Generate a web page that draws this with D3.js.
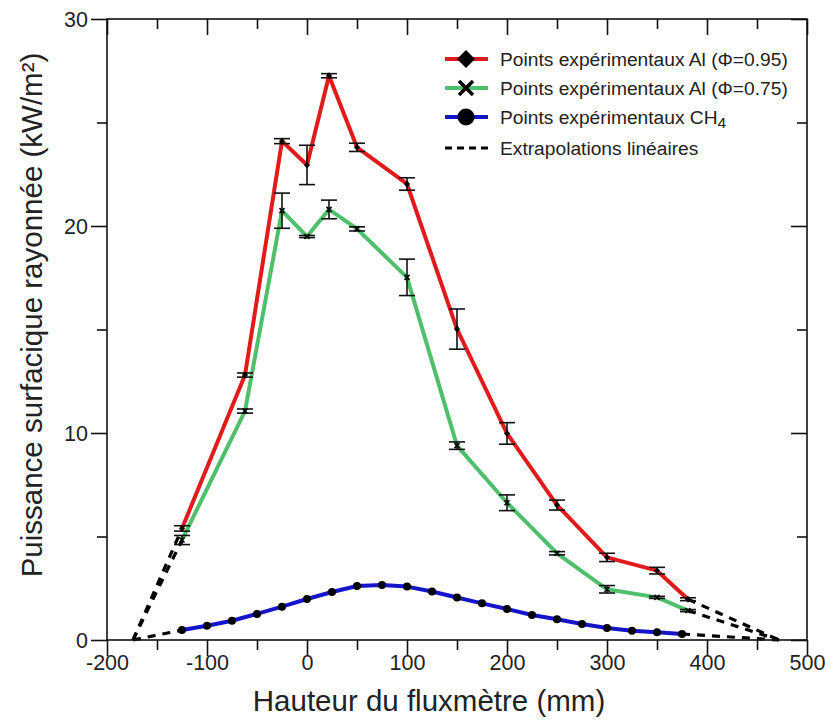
<!DOCTYPE html>
<html>
<head>
<meta charset="utf-8">
<script src="https://cdn.jsdelivr.net/npm/d3@7"></script>
<style>
  html, body { margin: 0; padding: 0; background: #fff; }
  svg { display: block; font-family: "Liberation Sans", Arial, sans-serif; }
</style>
</head>
<body>
<svg id="chart" width="827" height="724"></svg>
<script>
// ---------- data ----------
const xAl = [-125, -62, -25, 0, 22, 50, 100, 150, 200, 250, 300, 350, 381];
const alPhi095 = [5.39, 12.8, 24.1, 22.95, 27.26, 23.8, 22.03, 15.02, 9.98, 6.52, 3.99, 3.35, 1.97];
const alPhi095Err = [0.13, 0.1, 0.12, 0.95, 0.1, 0.2, 0.3, 0.97, 0.52, 0.24, 0.2, 0.16, 0.07];
const alPhi075 = [4.83, 11.06, 20.74, 19.49, 20.8, 19.86, 17.52, 9.39, 6.63, 4.19, 2.45, 2.06, 1.42];
const alPhi075Err = [0.22, 0.1, 0.85, 0.05, 0.45, 0.1, 0.88, 0.18, 0.38, 0.08, 0.18, 0.05, 0.05];
const xCH4 = [-125, -100, -75, -50, -25, 0, 25, 50, 75, 100, 125, 150, 175, 200, 225, 250, 275, 300, 325, 350, 375];
const ch4 = [0.48, 0.69, 0.93, 1.26, 1.61, 1.98, 2.32, 2.61, 2.66, 2.58, 2.34, 2.05, 1.77, 1.50, 1.21, 1.0, 0.77, 0.58, 0.45, 0.37, 0.29];
const extrapZeros = [-174, 472];   // x where linear extrapolations reach 0
const xTicks = [-200, -100, 0, 100, 200, 300, 400, 500];
const xMinorTicks = [-150, -50, 50, 150, 250, 350, 450];
const yTicks = [0, 10, 20, 30];
const yMinorTicks = [5, 15, 25];
const legendLabels = ["Points expérimentaux Al (Φ=0.95)", "Points expérimentaux Al (Φ=0.75)", "Points expérimentaux CH", "Extrapolations linéaires"];
const xTitle = "Hauteur du fluxmètre (mm)";
const yTitle = "Puissance surfacique rayonnée (kW/m²)";

// ---------- layout ----------
const svg = d3.select("#chart");
const L = 107, R = 807, T = 19, B = 640;
const x = d3.scaleLinear().domain([-200, 500]).range([L, R]);
const y = d3.scaleLinear().domain([0, 30]).range([B, T]);
const RED = "#e01b1b", GREEN = "#4fbf6c", BLUE = "#1414c8";
const FONT = "'Liberation Sans', Arial, sans-serif";
const fmt = d => String(d);

const line = d3.line().x(d => x(d[0])).y(d => y(d[1]));
const zip = (xs, ys) => xs.map((v, i) => [v, ys[i]]);

const red = zip(xAl, alPhi095), green = zip(xAl, alPhi075), blue = zip(xCH4, ch4);

// ---------- extrapolations ----------
const extrap = [];
[red, green, blue].forEach(s => {
  extrap.push([[extrapZeros[0], 0], s[0]]);
  extrap.push([s[s.length - 1], [extrapZeros[1], 0]]);
});
svg.append("g").selectAll("path").data(extrap).join("path")
  .attr("d", line).attr("fill", "none").attr("stroke", "#000")
  .attr("stroke-width", 3.2).attr("stroke-dasharray", "8,7");

// ---------- series lines ----------
[[red, RED], [green, GREEN], [blue, BLUE]].forEach(([s, c]) => {
  svg.append("path").datum(s).attr("d", line).attr("fill", "none")
    .attr("stroke", c).attr("stroke-width", 4).attr("stroke-linejoin", "round");
});

// ---------- error bars ----------
function errBars(s, errs) {
  const g = svg.append("g").attr("stroke", "#111").attr("stroke-width", 1.6);
  s.forEach((d, i) => {
    const e = errs[i], cx = x(d[0]);
    g.append("line").attr("x1", cx).attr("x2", cx).attr("y1", y(d[1] - e)).attr("y2", y(d[1] + e));
    [d[1] - e, d[1] + e].forEach(v => {
      g.append("line").attr("x1", cx - 8).attr("x2", cx + 8).attr("y1", y(v)).attr("y2", y(v));
    });
  });
}
errBars(red, alPhi095Err);
errBars(green, alPhi075Err);

// ---------- markers ----------
svg.append("g").selectAll("path").data(red).join("path")
  .attr("transform", d => `translate(${x(d[0])},${y(d[1])})`)
  .attr("d", "M0,-3.5L3,0L0,3.5L-3,0Z").attr("fill", "#000");
svg.append("g").selectAll("path").data(green).join("path")
  .attr("transform", d => `translate(${x(d[0])},${y(d[1])})`)
  .attr("d", "M-2.5,-2.5L2.5,2.5M-2.5,2.5L2.5,-2.5").attr("stroke", "#000").attr("stroke-width", 1.6);
svg.append("g").selectAll("circle").data(blue).join("circle")
  .attr("cx", d => x(d[0])).attr("cy", d => y(d[1])).attr("r", 4).attr("fill", "#000");

// ---------- frame & axes ----------
svg.append("rect").attr("x", L).attr("y", T).attr("width", R - L).attr("height", B - T)
  .attr("fill", "none").attr("stroke", "#111").attr("stroke-width", 1.6);

const gx = svg.append("g").attr("transform", `translate(0,${B})`);
gx.call(d3.axisBottom(x).tickValues(xTicks).tickSize(16).tickFormat(fmt));
gx.append("g").call(d3.axisBottom(x).tickValues(xMinorTicks).tickSize(10).tickFormat(""));
const gxTop = svg.append("g").attr("transform", `translate(0,${T})`);
gxTop.call(d3.axisBottom(x).tickValues(xTicks).tickSize(16).tickFormat(""));
gxTop.append("g").call(d3.axisBottom(x).tickValues(xMinorTicks).tickSize(10).tickFormat(""));

const gy = svg.append("g").attr("transform", `translate(${L},0)`);
gy.call(d3.axisLeft(y).tickValues(yTicks).tickSize(16).tickFormat(fmt));
gy.append("g").call(d3.axisLeft(y).tickValues(yMinorTicks).tickSize(10).tickFormat(""));
const gyR = svg.append("g").attr("transform", `translate(${R},0)`);
gyR.call(d3.axisLeft(y).tickValues(yTicks).tickSize(16).tickFormat(""));
gyR.append("g").call(d3.axisLeft(y).tickValues(yMinorTicks).tickSize(10).tickFormat(""));

svg.selectAll(".domain").remove();
svg.selectAll(".tick line").attr("stroke", "#111").attr("stroke-width", 1.6);
svg.selectAll(".tick text").attr("font-family", FONT).attr("font-size", 21.5).attr("fill", "#222");
gx.selectAll(".tick text").attr("dy", null).attr("y", 30);
gy.selectAll(".tick text").attr("x", -19).attr("dy", "0.36em");

// ---------- titles ----------
svg.append("text").attr("x", 429).attr("y", 711).attr("text-anchor", "middle")
  .attr("font-family", FONT).attr("font-size", 29.5).attr("fill", "#222").text(xTitle);
svg.append("text").attr("transform", "translate(42,315) rotate(-90)").attr("text-anchor", "middle")
  .attr("font-family", FONT).attr("font-size", 29.5).attr("fill", "#222").text(yTitle);

// ---------- legend ----------
const legY = [59, 88, 117, 148];
const lg = svg.append("g").attr("font-family", FONT).attr("font-size", 19.2).attr("fill", "#222");
const lx1 = 445, lx2 = 488, lmid = 466, ltx = 500;
[[RED, 0], [GREEN, 1], [BLUE, 2]].forEach(([c, i]) => {
  lg.append("line").attr("x1", lx1).attr("x2", lx2).attr("y1", legY[i]).attr("y2", legY[i])
    .attr("stroke", c).attr("stroke-width", 4);
});
lg.append("path").attr("transform", `translate(${lmid},${legY[0]})`)
  .attr("d", "M0,-9L9,0L0,9L-9,0Z").attr("fill", "#000");
lg.append("path").attr("transform", `translate(${lmid},${legY[1]})`)
  .attr("d", "M-7,-7L7,7M-7,7L7,-7").attr("stroke", "#000").attr("stroke-width", 3.5);
lg.append("circle").attr("cx", lmid).attr("cy", legY[2]).attr("r", 8.5).attr("fill", "#000");
lg.append("line").attr("x1", lx1).attr("x2", lx2 + 2).attr("y1", legY[3]).attr("y2", legY[3])
  .attr("stroke", "#000").attr("stroke-width", 3).attr("stroke-dasharray", "7,5");
legendLabels.forEach((t, i) => {
  const tx = lg.append("text").attr("x", ltx).attr("y", legY[i]).attr("dy", "0.36em").text(t);
  if (i === 2) tx.append("tspan").attr("font-size", 15.5).attr("dy", 4).text("4");
});
</script>
</body>
</html>
